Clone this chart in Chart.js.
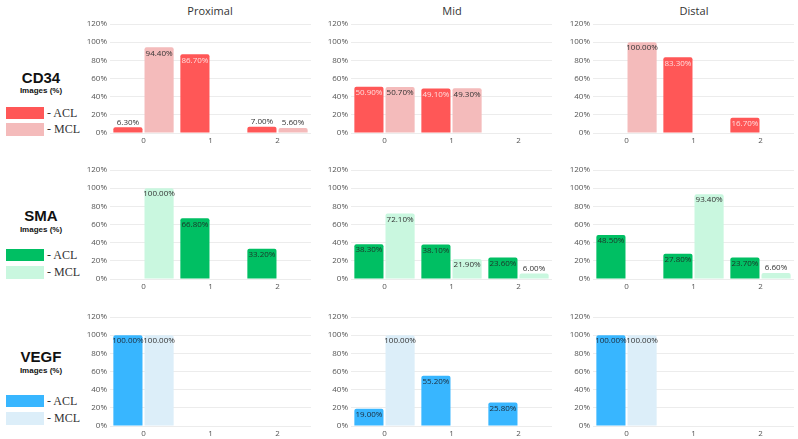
<!DOCTYPE html>
<html><head><meta charset="utf-8">
<script src="https://cdn.jsdelivr.net/npm/chart.js@4.4.1/dist/chart.umd.min.js"></script>
<style>
body{margin:0;background:#fff;width:798px;height:439px;position:relative;overflow:hidden;font-family:'Open Sans',sans-serif}
canvas{position:absolute}
.title{position:absolute;font-size:11px;color:#333;transform:translate(-50%,-50%);white-space:nowrap}
.mk{position:absolute;left:0;width:82px;text-align:center;font-weight:700;color:#111;transform:translateY(-50%);font-family:'Liberation Sans',Arial,sans-serif}
.big{font-size:15px}
.small{font-size:8px}
.box{position:absolute;left:6px;width:38px}
.lg{position:absolute;left:47px;font-family:'Liberation Serif',serif;font-size:12px;color:#333;transform:translateY(-50%)}
</style></head><body>
<script>
// ---- data ----
const categories = ['0', '1', '2'];
const columns = ['Proximal', 'Mid', 'Distal'];
const markers = ['CD34', 'SMA', 'VEGF'];
const seriesNames = ['ACL', 'MCL'];
const yTickValues = [0, 20, 40, 60, 80, 100, 120];

const cd34ProximalACL = [6.3, 86.7, 7.0];
const cd34ProximalMCL = [94.4, null, 5.6];
const cd34MidACL = [50.9, 49.1, null];
const cd34MidMCL = [50.7, 49.3, null];
const cd34DistalACL = [null, 83.3, 16.7];
const cd34DistalMCL = [100, null, null];

const smaProximalACL = [null, 66.8, 33.2];
const smaProximalMCL = [100, null, null];
const smaMidACL = [38.3, 38.1, 23.6];
const smaMidMCL = [72.1, 21.9, 6.0];
const smaDistalACL = [48.5, 27.8, 23.7];
const smaDistalMCL = [null, 93.4, 6.6];

const vegfProximalACL = [100, null, null];
const vegfProximalMCL = [100, null, null];
const vegfMidACL = [19.0, 55.2, 25.8];
const vegfMidMCL = [100, null, null];
const vegfDistalACL = [100, null, null];
const vegfDistalMCL = [100, null, null];

// ---- styling / layout ----
const palette = [
  {acl: '#FF5757', mcl: '#F4BBBB', aclText: 'rgba(255,235,235,0.9)', mclText: '#333'},
  {acl: '#00BF63', mcl: '#C9F7DF', aclText: '#1d3328', mclText: '#333'},
  {acl: '#38B6FF', mcl: '#DCEEF9', aclText: '#1d2a38', mclText: '#333'}
];
const grid = [
  [[cd34ProximalACL, cd34ProximalMCL], [cd34MidACL, cd34MidMCL], [cd34DistalACL, cd34DistalMCL]],
  [[smaProximalACL, smaProximalMCL], [smaMidACL, smaMidMCL], [smaDistalACL, smaDistalMCL]],
  [[vegfProximalACL, vegfProximalMCL], [vegfMidACL, vegfMidMCL], [vegfDistalACL, vegfDistalMCL]]
];
const colLeft = [71.5, 312.5, 554.5];
const canvasW = 239;
const yAxisW = 38;
const areaTop = [23.8, 170.2, 316.8];
const areaH = 109;
const topPad = 8;
const xAxisH = 14;
const titleCenters = [210, 452, 694];
const markerY = [[77, 90, 107, 123], [215, 229, 249, 266], [356, 370, 395, 412]];

const labelPlugin = {
  id: 'barLabels',
  afterDatasetsDraw(chart) {
    const ctx = chart.ctx;
    const pal = chart.options.plugins.barLabels;
    ctx.save();
    ctx.font = '8px "Open Sans", sans-serif';
    ctx.textAlign = 'center';
    chart.data.datasets.forEach((ds, di) => {
      const meta = chart.getDatasetMeta(di);
      meta.data.forEach((bar, i) => {
        const v = ds.data[i];
        if (v === null || v === undefined) return;
        const txt = v.toFixed(2) + '%';
        if (v < 10) {
          ctx.fillStyle = '#333';
          ctx.textBaseline = 'bottom';
          ctx.fillText(txt, bar.x, bar.y - 1);
        } else {
          ctx.fillStyle = di === 0 ? pal.aclText : pal.mclText;
          ctx.textBaseline = 'top';
          ctx.fillText(txt, bar.x, bar.y + 2);
        }
      });
    });
    ctx.restore();
  }
};

columns.forEach((c, ci) => {
  const d = document.createElement('div');
  d.className = 'title';
  d.textContent = c;
  d.style.left = titleCenters[ci] + 'px';
  d.style.top = '10px';
  document.body.appendChild(d);
});

markers.forEach((m, ri) => {
  const y = markerY[ri];
  const a = document.createElement('div');
  a.className = 'mk big'; a.textContent = m; a.style.top = y[0] + 'px';
  document.body.appendChild(a);
  const b = document.createElement('div');
  b.className = 'mk small'; b.textContent = 'Images (%)'; b.style.top = y[1] + 'px';
  document.body.appendChild(b);
  [palette[ri].acl, palette[ri].mcl].forEach((col, k) => {
    const bx = document.createElement('div');
    bx.className = 'box';
    bx.style.background = col;
    bx.style.top = y[2 + k] + 'px';
    bx.style.height = (k === 0 ? 12 : 13) + 'px';
    document.body.appendChild(bx);
    const t = document.createElement('div');
    t.className = 'lg';
    t.textContent = '- ' + seriesNames[k];
    t.style.top = (y[2 + k] + 6) + 'px';
    document.body.appendChild(t);
  });
});

grid.forEach((row, ri) => {
  row.forEach((pair, ci) => {
    const cv = document.createElement('canvas');
    const h = topPad + areaH + xAxisH;
    cv.width = canvasW; cv.height = h;
    cv.style.left = colLeft[ci] + 'px';
    cv.style.top = (areaTop[ri] - topPad) + 'px';
    cv.style.width = canvasW + 'px'; cv.style.height = h + 'px';
    document.body.appendChild(cv);
    const pal = palette[ri];
    new Chart(cv, {
      type: 'bar',
      data: {
        labels: categories,
        datasets: [
          {label: seriesNames[0], data: pair[0], backgroundColor: pal.acl, borderRadius: 2, borderSkipped: 'start'},
          {label: seriesNames[1], data: pair[1], backgroundColor: pal.mcl, borderRadius: 2, borderSkipped: 'start'}
        ]
      },
      options: {
        responsive: false,
        animation: false,
        devicePixelRatio: 1,
        categoryPercentage: 0.93,
        barPercentage: 0.935,
        layout: {padding: {top: topPad, right: 0, left: 0, bottom: 0}},
        plugins: {legend: {display: false}, tooltip: {enabled: false}, barLabels: pal},
        scales: {
          x: {
            grid: {display: false, drawTicks: false},
            border: {display: false},
            ticks: {color: '#555', font: {size: 8, family: 'Open Sans'}, padding: 3},
            afterFit(s) { s.height = xAxisH; }
          },
          y: {
            min: 0, max: 120,
            afterBuildTicks(s) { s.ticks = yTickValues.map(v => ({value: v})); },
            grid: {color: '#ececec', drawTicks: false},
            border: {display: false},
            ticks: {color: '#555', font: {size: 8, family: 'Open Sans'}, padding: 3, callback: v => v + '%'},
            afterFit(s) { s.width = yAxisW; }
          }
        }
      },
      plugins: [labelPlugin]
    });
  });
});
</script>
</body></html>
